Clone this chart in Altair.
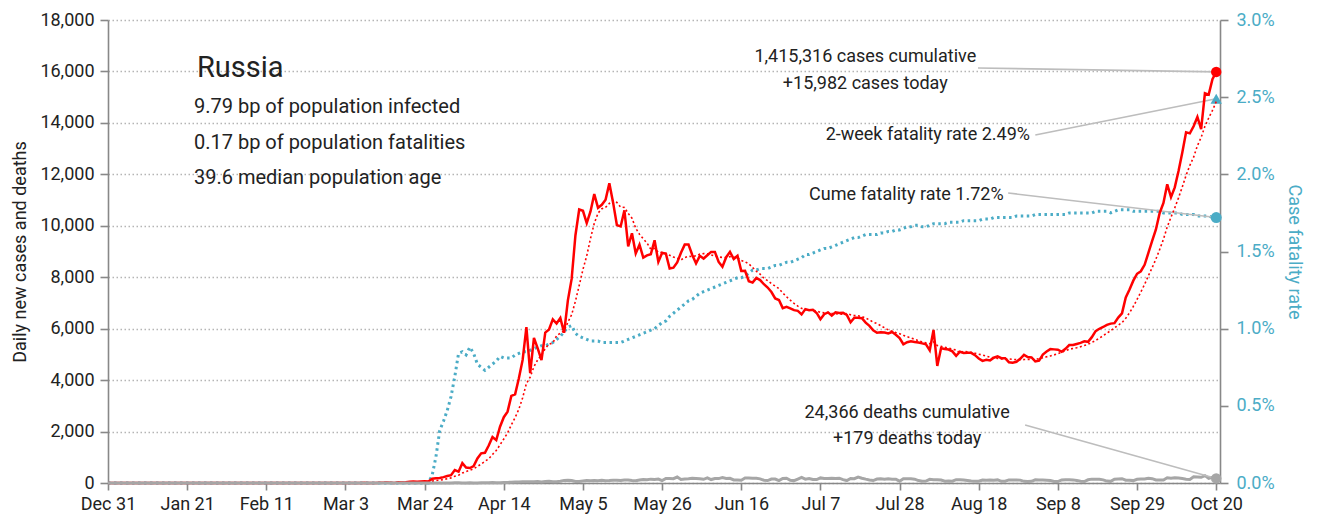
import altair as alt
import pandas as pd

FONT = "Roboto, Liberation Sans, sans-serif"
BLUE = "#4BACC6"
RED = "#FF0000"
GRAY = "#A6A6A6"
LINEGRAY = "#BDBDBD"
TEXT = "#222222"

START = "2019-12-31"

# Daily new cases (Dec 31 2019 .. Oct 20 2020)
cases = (
    [0] * 32 + [2] + [0] * 30 + [1, 0, 0, 0, 1, 6, 0, 0, 0]
    + [7, 11, 17, 14, 4, 27, 24, 33, 52, 54, 53, 61, 71, 57]
    + [163, 182, 196, 228, 270, 302, 501, 440, 771, 601, 582, 658, 954, 1154]
    + [1175, 1459, 1786, 1667, 2186, 2558, 2774, 3388, 3448, 4070, 4785, 6060]
    + [4268, 5642, 5236, 4774, 5849, 5966, 6361, 6198, 6411, 5841, 7099, 7933]
    + [9623, 10633, 10581, 10102, 10559, 11231, 10699, 10817, 11012, 11656]
    + [10899, 10028, 9974, 10598, 9200, 9709, 8926, 9263, 8764, 8849, 8894]
    + [9434, 8599, 8946, 8915, 8338, 8371, 8572, 8952, 9268, 9268, 8863, 8536]
    + [8831, 8726, 8855, 8984, 8985, 8595, 8404, 8779, 8987, 8706, 8835, 8246]
    + [8248, 7843, 7790, 7972, 7889, 7728, 7600, 7425, 7176, 7113, 6800, 6852]
    + [6791, 6719, 6693, 6556, 6760, 6718, 6736, 6611, 6368, 6562, 6632, 6509]
    + [6635, 6611, 6615, 6537, 6248, 6422, 6428, 6406, 6234, 6109, 5940, 5842]
    + [5862, 5848, 5811, 5871, 5765, 5635, 5395, 5475, 5509, 5482, 5462, 5427]
    + [5394, 5159, 5950, 4550, 5241, 5212, 5189, 5118, 4945, 5102, 5057, 5065]
    + [5061, 4969, 4839, 4748, 4790, 4767, 4870, 4921, 4852, 4852, 4696, 4676]
    + [4711, 4829, 4980, 4897, 4880, 4729, 4758, 4995, 5110, 5205, 5195, 5185]
    + [5099, 5218, 5363, 5363, 5406, 5449, 5509, 5488, 5670, 5905, 5995, 6065]
    + [6148, 6196, 6215, 6431, 6595, 7212, 7523, 7867, 8135, 8232, 8481, 8945]
    + [9412, 9859, 10499, 10888, 11615, 11115, 11493, 12126, 12846, 13634]
    + [13592, 13868, 14231, 13754, 15150, 15099, 15700, 15982]
)

# Daily deaths
deaths = (
    [0] * 80 + [1, 0, 0, 0, 0, 0] + [1, 1, 1, 1, 4, 0, 8]
    + [7, 2, 4, 9, 2, 2, 11, 5, 13, 18, 12, 12, 22, 24, 28, 41, 36, 48, 48, 50]
    + [51, 57, 42, 60, 66, 47, 52, 72, 101, 108]
    + [96, 57, 58, 76, 95, 86, 98, 88, 104, 88, 94, 107, 107, 93, 113, 119, 94]
    + [91, 115, 135, 127, 150, 139, 153, 92, 174, 174, 169, 232, 138, 153]
    + [162, 182, 178, 169, 144, 197, 134, 171, 171, 216, 174, 181, 119, 113]
    + [109, 193, 194, 182, 181, 161, 109, 95, 153, 154, 92, 176, 188, 104, 93, 154]
    + [216, 147, 176, 135, 134, 198, 173, 174, 186, 174, 188, 130, 95, 175, 166]
    + [232, 186, 150, 119, 95, 154, 165, 146, 161, 150, 147, 70, 165, 169, 161, 150]
    + [95, 70, 77, 144, 130, 129, 114, 70, 77, 70, 130, 129, 114, 94, 76, 70]
    + [70, 116, 110, 117, 109, 121, 66, 68, 120, 118, 117, 112, 64, 59, 66]
    + [123, 117, 119, 108, 95, 59, 56, 119, 129, 125, 121, 101, 66, 55, 124]
    + [150, 145, 144, 122, 75, 64, 146, 160, 169, 108, 106, 93, 145, 160, 156]
    + [186, 169, 117, 114, 115, 201, 186, 202, 197, 174, 150, 140, 244, 232]
    + [223, 286, 184, 222, 179]
)

# Cumulative case fatality rate, percent
cfr = (
    [0] * 86
    + [0.05, 0.17, 0.34, 0.40, 0.47, 0.56, 0.69, 0.84, 0.85, 0.83]
    + [0.88, 0.84, 0.77, 0.75, 0.73, 0.75, 0.77, 0.79, 0.82, 0.81]
    + [0.81, 0.81, 0.83, 0.84, 0.85, 0.85, 0.86, 0.87, 0.88, 0.89]
    + [0.89, 0.90, 0.91, 0.93, 0.95, 0.98, 1.01, 1.02, 0.97, 0.95]
    + [0.94, 0.93, 0.92, 0.92, 0.92, 0.91, 0.91, 0.91, 0.91, 0.91]
    + [0.91, 0.92, 0.93, 0.94, 0.95, 0.96, 0.97, 0.98, 0.99, 1.00]
    + [1.02, 1.04, 1.05, 1.08, 1.10, 1.12, 1.14, 1.16, 1.18, 1.19]
    + [1.21, 1.23, 1.24, 1.25, 1.26, 1.27, 1.28, 1.29, 1.30, 1.31]
    + [1.32, 1.33, 1.33, 1.34, 1.36, 1.38, 1.38, 1.39, 1.39, 1.39]
    + [1.40, 1.41, 1.41, 1.42, 1.43, 1.43, 1.44, 1.45, 1.46, 1.48]
    + [1.48, 1.49, 1.50, 1.51, 1.52, 1.52, 1.53, 1.54, 1.55, 1.56]
    + [1.57, 1.58, 1.59, 1.59, 1.60, 1.61, 1.61, 1.61, 1.61, 1.62]
    + [1.62, 1.63, 1.63, 1.64, 1.64, 1.65, 1.66, 1.66, 1.67, 1.67]
    + [1.66, 1.66, 1.67, 1.68, 1.68, 1.68, 1.68, 1.69, 1.69, 1.69]
    + [1.69, 1.70, 1.70, 1.70, 1.70, 1.70, 1.71, 1.71, 1.71, 1.72]
    + [1.72, 1.72, 1.72, 1.72, 1.72, 1.73, 1.73, 1.73, 1.73, 1.73]
    + [1.74, 1.74, 1.74, 1.74, 1.74, 1.74, 1.74, 1.74, 1.74, 1.75]
    + [1.75, 1.75, 1.75, 1.75, 1.75, 1.75, 1.76, 1.76, 1.76, 1.76]
    + [1.75, 1.76, 1.77, 1.77, 1.77, 1.77, 1.76, 1.76, 1.76, 1.76]
    + [1.76, 1.76, 1.76, 1.76, 1.75, 1.75, 1.75, 1.75, 1.75, 1.74]
    + [1.74, 1.74, 1.74, 1.73, 1.73, 1.73, 1.73, 1.72, 1.72]
)

two_week_rate = 2.49

tick_dates = ["2019-12-31", "2020-01-21", "2020-02-11", "2020-03-03", "2020-03-24",
              "2020-04-14", "2020-05-05", "2020-05-26", "2020-06-16", "2020-07-07",
              "2020-07-28", "2020-08-18", "2020-09-08", "2020-09-29", "2020-10-20"]

title_lines = ["9.79 bp of population infected",
               "0.17 bp of population fatalities",
               "39.6 median population age"]

n = min(len(cases), len(deaths), len(cfr))
dates = pd.date_range(START, periods=n, freq="D")
df = pd.DataFrame({"date": dates, "cases": cases[:n], "deaths": deaths[:n], "cfr": cfr[:n]})
last = df.iloc[[-1]].copy()
last["tw"] = two_week_rate

t0 = pd.Timestamp(START)
def day(d):
    return t0 + pd.Timedelta(days=d)

def dt(s):
    y, m, d = [int(v) for v in s.split("-")]
    return alt.DateTime(year=y, month=m, date=d)

x_scale = alt.Scale(domain=[dt("2019-12-31"), dt("2020-10-21")])
x_axis = alt.Axis(values=[dt(s) for s in tick_dates], format="%b %-d", title=None,
                  grid=False, tickSize=7, labelPadding=5, labelFontSize=18,
                  labelOverlap=False, labelBound=False, labelFlush=False)

def X(field="date"):
    return alt.X(f"{field}:T", scale=x_scale, axis=x_axis)

left_axis = alt.Axis(orient="left", values=list(range(0, 18001, 2000)),
                     labelExpr="format(datum.value, ',')",
                     title="Daily new cases and deaths", grid=True, gridDash=[1.5, 2.5],
                     gridColor="#B5B5B5", gridWidth=1.3, tickSize=8, labelPadding=6,
                     titlePadding=10, labelFontSize=18, titleFontSize=18,
                     labelOverlap=False)
right_axis = alt.Axis(orient="right", values=[0, 0.5, 1, 1.5, 2, 2.5, 3],
                      labelExpr="format(datum.value, '.1f') + '%'",
                      title="Case fatality rate", grid=False, tickSize=8,
                      labelPadding=8, titlePadding=10, labelColor=BLUE, titleColor=BLUE,
                      labelFontSize=18, titleFontSize=18, labelOverlap=False)

y_left_scale = alt.Scale(domain=[0, 18000], nice=False, zero=True)
y_right_scale = alt.Scale(domain=[0, 3], nice=False, zero=True)

def YL(field):
    return alt.Y(f"{field}:Q", scale=y_left_scale, axis=left_axis)

def YR(field):
    return alt.Y(f"{field}:Q", scale=y_right_scale, axis=right_axis)

base = alt.Chart(df)

# ---------------- right scale group ----------------
cfr_line = base.mark_line(color=BLUE, strokeWidth=3, strokeDash=[2.5, 3.5]).encode(
    x=X("date"), y=YR("cfr"))

ann_right_lines = pd.DataFrame({
    "x": [day(246.0), day(238.8)], "y": [2.255, 1.879],
    "x2": [day(294), day(294)], "y2": [two_week_rate, cfr[n - 1]],
})
rule_r = alt.Chart(ann_right_lines).mark_rule(color=LINEGRAY, strokeWidth=1.6).encode(
    x=X("x"), y=YR("y"), x2="x2:T", y2="y2:Q")

ann_right_text = pd.DataFrame({
    "x": [day(244.6), day(237.6)], "y": [2.255, 1.866],
    "text": ["2-week fatality rate 2.49%", "Cume fatality rate 1.72%"],
})
text_r = alt.Chart(ann_right_text).mark_text(align="right", baseline="middle",
                                             font=FONT, fontSize=18, color=TEXT).encode(
    x=X("x"), y=YR("y"), text="text:N")

tri = alt.Chart(last).mark_point(shape="triangle-up", filled=True, size=130,
                                 color=BLUE, opacity=1).encode(x=X("date"), y=YR("tw"))
cfr_dot = alt.Chart(last).mark_circle(size=120, color=BLUE, opacity=1).encode(
    x=X("date"), y=YR("cfr"))

right_group = alt.layer(cfr_line, rule_r, text_r, tri, cfr_dot)

# ---------------- left scale group ----------------
cases_line = base.mark_line(color=RED, strokeWidth=2.5).encode(
    x=X("date"), y=YL("cases"))
ma_line = base.transform_window(
    ma="mean(cases)", frame=[-6, 0], sort=[alt.SortField("date")]
).mark_line(color=RED, strokeWidth=1.6, strokeDash=[2, 2.5]).encode(
    x=X("date"), y=YL("ma"))
deaths_line = base.mark_line(color=GRAY, strokeWidth=3).encode(
    x=X("date"), y=YL("deaths"))

ann_left_lines = pd.DataFrame({
    "x": [day(230.8), day(243.3)], "y": [16135, 2255],
    "x2": [day(294), day(294)], "y2": [cases[n - 1], deaths[n - 1]],
})
rule_l = alt.Chart(ann_left_lines).mark_rule(color=LINEGRAY, strokeWidth=1.6).encode(
    x=X("x"), y=YL("y"), x2="x2:T", y2="y2:Q")

ann_left_text = pd.DataFrame({
    "x": [day(200.9), day(200.9), day(212.0), day(212.0)],
    "y": [16563, 15513, 2722, 1711],
    "text": ["1,415,316 cases cumulative", "+15,982 cases today",
             "24,366 deaths cumulative", "+179 deaths today"],
})
text_l = alt.Chart(ann_left_text).mark_text(align="center", baseline="middle",
                                            font=FONT, fontSize=18, color=TEXT).encode(
    x=X("x"), y=YL("y"), text="text:N")

head = pd.DataFrame({"x": [day(23.6)], "y": [15785], "text": ["Russia"]})
head_text = alt.Chart(head).mark_text(align="left", baseline="alphabetic", font=FONT,
                                      fontSize=29, fontWeight="normal", color=TEXT).encode(
    x=X("x"), y=YL("y"), text="text:N")

sub = pd.DataFrame({"x": [day(22.8)] * 3, "y": [14374, 12986, 11625], "text": title_lines})
sub_text = alt.Chart(sub).mark_text(align="left", baseline="alphabetic", font=FONT,
                                    fontSize=20, color=TEXT).encode(
    x=X("x"), y=YL("y"), text="text:N")

red_dot = alt.Chart(last).mark_circle(size=110, color=RED, opacity=1).encode(
    x=X("date"), y=YL("cases"))
gray_dot = alt.Chart(last).mark_circle(size=110, color=GRAY, opacity=1).encode(
    x=X("date"), y=YL("deaths"))

left_group = alt.layer(cases_line, ma_line, deaths_line, rule_l, text_l,
                       head_text, sub_text, red_dot, gray_dot)

chart = alt.layer(right_group, left_group).resolve_scale(y="independent").properties(
    width=1112, height=463,
    padding={"left": 100, "top": 12, "right": 92, "bottom": 34},
    autosize=alt.AutoSizeParams(type="none"),
).configure_view(strokeWidth=0).configure_axis(
    labelFont=FONT, titleFont=FONT, labelColor=TEXT, titleColor=TEXT,
    titleFontWeight="normal", domainColor="#888888", tickColor="#888888",
    domainWidth=1.6, tickWidth=1.6,
)

chart.save("out.html", embed_options={"renderer": "svg", "actions": False})
